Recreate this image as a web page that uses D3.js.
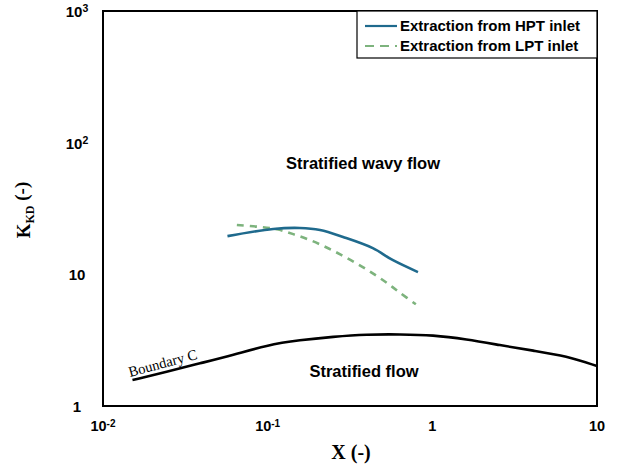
<!DOCTYPE html>
<html>
<head>
<meta charset="utf-8">
<script src="https://cdn.jsdelivr.net/npm/d3@7"></script>
<style>
  body { margin: 0; background: #fff; }
  svg { display: block; }
</style>
</head>
<body>
<svg id="chart"></svg>
<script>
// values
const xTicks = [0.01, 0.1, 1, 10];
const xTickLabels = [["10", "-2"], ["10", "-1"], ["1", ""], ["10", ""]];
const yTicks = [1, 10, 100, 1000];
const yTickLabels = [["1", ""], ["10", ""], ["10", "2"], ["10", "3"]];

const hptX = [0.057, 0.108, 0.157, 0.208, 0.287, 0.435, 0.577, 0.818];
const hptY = [19.5, 22.1, 22.5, 21.7, 19.2, 15.8, 12.8, 10.4];

const lptX = [0.065, 0.087, 0.114, 0.143, 0.181, 0.228, 0.281, 0.347, 0.428, 0.528, 0.636, 0.794];
const lptY = [23.7, 23.0, 22.0, 20.2, 18.2, 16.0, 14.0, 12.1, 10.3, 8.63, 7.25, 5.92];

const bndX = [0.0151, 0.0244, 0.0388, 0.0619, 0.0986, 0.157, 0.25, 0.399, 0.636, 1.01, 1.61, 2.57, 4.1, 6.53, 10];
const bndY = [1.575, 1.82, 2.11, 2.44, 2.9, 3.17, 3.36, 3.5, 3.5, 3.46, 3.21, 2.9, 2.63, 2.4, 2.01];

const seriesNames = ["Extraction from HPT inlet", "Extraction from LPT inlet"];

const width = 617, height = 470;
const marginLeft = 103, marginRight = 20, marginTop = 11, marginBottom = 64;

const svg = d3.select("#chart")
    .attr("width", width)
    .attr("height", height)
    .attr("viewBox", `0 0 ${width} ${height}`);

const x = d3.scaleLog()
    .domain([0.01, 10])
    .range([marginLeft, width - marginRight]);

const y = d3.scaleLog()
    .domain([1, 1000])
    .range([height - marginBottom, marginTop]);

const line = d3.line()
    .x(d => x(d[0]))
    .y(d => y(d[1]))
    .curve(d3.curveCatmullRom);

// boundary C, smoothed a bit more
svg.append("path")
    .datum(d3.zip(bndX, bndY))
    .attr("fill", "none")
    .attr("stroke", "#000")
    .attr("stroke-width", 2.6)
    .attr("d", line.curve(d3.curveBasis));
line.curve(d3.curveCatmullRom);

// LPT dashed
svg.append("path")
    .datum(d3.zip(lptX, lptY))
    .attr("fill", "none")
    .attr("stroke", "#7db37d")
    .attr("stroke-width", 2.6)
    .attr("stroke-dasharray", "7,6")
    .attr("d", line);

// HPT solid
svg.append("path")
    .datum(d3.zip(hptX, hptY))
    .attr("fill", "none")
    .attr("stroke", "#1f6a8d")
    .attr("stroke-width", 2.6)
    .attr("d", line);

// frame
svg.append("rect")
    .attr("x", x(0.01))
    .attr("y", y(1000))
    .attr("width", x(10) - x(0.01))
    .attr("height", y(1) - y(1000))
    .attr("fill", "none")
    .attr("stroke", "#000")
    .attr("stroke-width", 2);

// tick labels
const tickFont = "'Liberation Sans', Arial, sans-serif";
const serifFont = "'Liberation Serif', 'DejaVu Serif', serif";

const xLab = svg.append("g")
    .selectAll("text")
    .data(xTicks)
    .enter().append("text")
    .attr("x", d => x(d))
    .attr("y", height - marginBottom + 25)
    .attr("text-anchor", "middle")
    .style("font-family", tickFont)
    .style("font-weight", "bold")
    .style("font-size", "14.5px");
xLab.append("tspan").text((d, i) => xTickLabels[i][0]);
xLab.append("tspan")
    .attr("dy", "-0.4em")
    .style("font-size", "10px")
    .text((d, i) => xTickLabels[i][1]);

const yLab = svg.append("g")
    .selectAll("text")
    .data(yTicks)
    .enter().append("text")
    .attr("x", 77)
    .attr("y", d => y(d) + 6)
    .attr("text-anchor", "middle")
    .style("font-family", tickFont)
    .style("font-weight", "bold")
    .style("font-size", "15px");
yLab.append("tspan").text((d, i) => yTickLabels[i][0]);
yLab.append("tspan")
    .attr("dy", "-0.45em")
    .style("font-size", "10.5px")
    .text((d, i) => yTickLabels[i][1]);

// axis titles
svg.append("text")
    .attr("x", 351)
    .attr("y", 459)
    .attr("text-anchor", "middle")
    .style("font-family", serifFont)
    .style("font-weight", "bold")
    .style("font-size", "20px")
    .text("X (-)");

const yTitle = svg.append("text")
    .attr("transform", "translate(30, 210) rotate(-90)")
    .attr("text-anchor", "middle")
    .style("font-family", serifFont)
    .style("font-weight", "bold")
    .style("font-size", "19px");
yTitle.append("tspan").text("K");
yTitle.append("tspan").attr("dy", "0.3em").style("font-size", "12px").text("KD");
yTitle.append("tspan").attr("dy", "-0.3em").text(" (-)");

// region labels
svg.append("text")
    .attr("x", 363)
    .attr("y", 169)
    .attr("text-anchor", "middle")
    .style("font-family", tickFont)
    .style("font-weight", "bold")
    .style("font-size", "16.5px")
    .text("Stratified wavy flow");

svg.append("text")
    .attr("x", 364)
    .attr("y", 377)
    .attr("text-anchor", "middle")
    .style("font-family", tickFont)
    .style("font-weight", "bold")
    .style("font-size", "16.5px")
    .text("Stratified flow");

svg.append("text")
    .attr("transform", "translate(130, 377) rotate(-15)")
    .style("font-family", serifFont)
    .style("font-size", "14.5px")
    .text("Boundary C");

// legend
const legend = svg.append("g")
    .attr("transform", "translate(357, 11)");

legend.append("rect")
    .attr("width", 240)
    .attr("height", 47)
    .attr("fill", "#fff")
    .attr("stroke", "#000")
    .attr("stroke-width", 1.2);

const legendStyles = [
    { color: "#1f6a8d", dash: null },
    { color: "#7db37d", dash: "9,6" }
];

const legendItems = legend.selectAll(".legend-item")
    .data(seriesNames)
    .enter().append("g")
    .attr("class", "legend-item")
    .attr("transform", (d, i) => `translate(0, ${15 + i * 20})`);

legendItems.append("line")
    .attr("x1", 8)
    .attr("x2", 40)
    .attr("stroke", (d, i) => legendStyles[i].color)
    .attr("stroke-width", 2.2)
    .attr("stroke-dasharray", (d, i) => legendStyles[i].dash);

legendItems.append("text")
    .attr("x", 43)
    .attr("dy", "0.35em")
    .style("font-family", tickFont)
    .style("font-weight", "bold")
    .style("font-size", "15px")
    .text(d => d);
</script>
</body>
</html>
